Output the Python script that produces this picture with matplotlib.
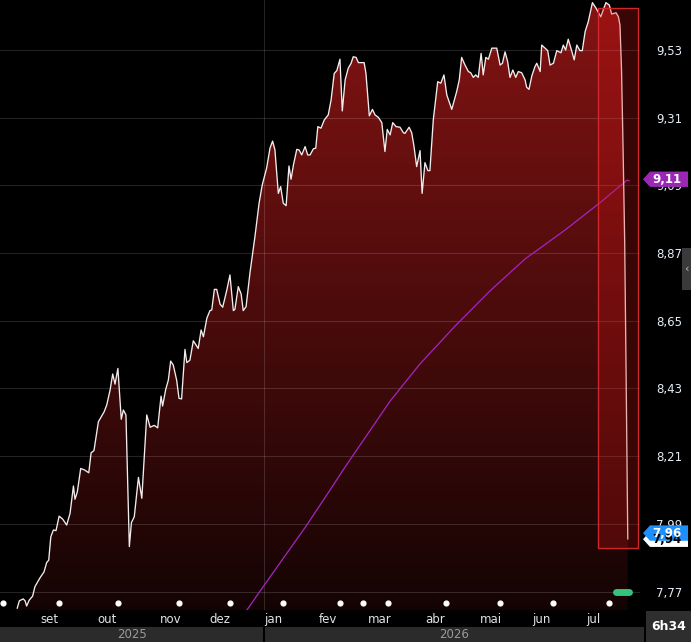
import numpy as np
import matplotlib
matplotlib.use('Agg')
import matplotlib.pyplot as plt
from matplotlib.patches import Polygon, Rectangle
from matplotlib.colors import LinearSegmentedColormap
import matplotlib.transforms as mtransforms

# ---------------- data ----------------
sessions = [0.1, 0.9, 2.4, 3.1, 3.7, 4.7, 6.0, 6.9, 8.8, 10.4, 11.4, 12.2, 13.0, 14.0, 15.0,
            16.2, 17.6, 19.1, 20.4, 21.7, 22.3, 23.2, 24.5, 26.0, 27.6, 28.5, 29.6, 31.3,
            33.5, 34.5, 35.8, 36.8, 37.7, 38.8, 40.1, 40.9, 41.9, 43.2, 44.0, 45.1, 46.7,
            48.0, 49.9, 51.2, 52.8, 54.1, 55.4, 56.0, 57.2, 58.2, 59.1, 60.1, 61.4, 62.3,
            63.3, 64.6, 65.3, 66.5, 67.8, 69.7, 70.8, 71.7, 73.0, 74.2, 74.9, 75.9, 76.8,
            78.1, 79.1, 80.7, 81.9, 83.2, 83.8, 85.1, 86.2, 87.0, 88.1, 89.6, 91.5, 93.1,
            94.3, 96.0, 97.3, 98.3, 99.2, 100.5, 101.4, 102.4, 103.5, 104.6, 105.4, 106.3,
            107.6, 108.5, 109.5, 110.8, 111.8, 112.7, 114.0, 114.9, 115.7, 116.9, 118.2,
            119.7, 120.8, 122.0, 123.0, 124.2, 125.1, 126.2, 127.4, 128.5, 129.3, 130.4,
            131.3, 133.5, 134.2, 135.5, 136.7, 137.7, 139.0, 140.3, 141.5, 142.4, 143.5,
            144.5, 145.8, 147.3, 148.6, 149.2, 150.8, 151.8, 152.7, 153.7, 155.0, 155.8,
            156.9, 158.0, 158.8, 160.1, 161.8, 163.0, 164.2, 165.3, 167.2, 169.1, 170.1,
            171.0, 172.3, 173.6, 174.5, 175.5, 176.4, 177.4, 178.5, 179.3, 180.3, 181.3,
            182.6, 184.5, 185.8, 186.7, 187.7, 188.7, 189.6, 190.7, 191.8, 192.8, 194.1,
            195.4, 196.0, 196.9, 198.0, 199.2, 199.9, 201.2, 201.8, 204.1, 205.0, 206.3,
            207.6, 209.2, 210.1, 211.0, 212.0, 213.3, 214.3, 215.3, 216.5, 217.4, 218.5,
            219.7, 221.3, 222.7, 224.5, 226.5, 227.8, 228.7, 230.4, 231.3, 231.9, 232.5,
            233.1, 233.7, 234.2, 234.9]
prices = [7.716, 7.740, 7.746, 7.740, 7.723, 7.742, 7.755, 7.786, 7.814, 7.834, 7.864, 7.872,
          7.948, 7.970, 7.968, 8.015, 8.005, 7.986, 8.024, 8.113, 8.070, 8.094, 8.170, 8.165,
          8.156, 8.221, 8.228, 8.322, 8.354, 8.376, 8.425, 8.477, 8.444, 8.495, 8.330, 8.360,
          8.344, 7.916, 7.994, 8.013, 8.141, 8.073, 8.344, 8.304, 8.310, 8.302, 8.405, 8.373,
          8.427, 8.457, 8.519, 8.506, 8.457, 8.398, 8.396, 8.557, 8.514, 8.522, 8.585, 8.560,
          8.620, 8.598, 8.658, 8.683, 8.685, 8.752, 8.752, 8.704, 8.694, 8.750, 8.799, 8.683,
          8.687, 8.761, 8.737, 8.683, 8.696, 8.806, 8.923, 9.032, 9.091, 9.146, 9.211, 9.234,
          9.205, 9.064, 9.086, 9.032, 9.024, 9.153, 9.110, 9.156, 9.207, 9.205, 9.189, 9.216,
          9.189, 9.189, 9.209, 9.211, 9.281, 9.276, 9.303, 9.319, 9.368, 9.454, 9.463, 9.500,
          9.332, 9.433, 9.471, 9.487, 9.508, 9.506, 9.489, 9.489, 9.454, 9.316, 9.337, 9.319,
          9.311, 9.294, 9.200, 9.272, 9.254, 9.294, 9.281, 9.279, 9.261, 9.259, 9.279, 9.261,
          9.216, 9.151, 9.203, 9.064, 9.164, 9.138, 9.138, 9.303, 9.427, 9.422, 9.449, 9.384,
          9.337, 9.395, 9.433, 9.506, 9.481, 9.460, 9.456, 9.441, 9.449, 9.441, 9.519, 9.449,
          9.506, 9.500, 9.536, 9.536, 9.481, 9.487, 9.524, 9.492, 9.441, 9.465, 9.441, 9.460,
          9.456, 9.433, 9.409, 9.402, 9.446, 9.476, 9.487, 9.460, 9.546, 9.528, 9.481, 9.487,
          9.528, 9.521, 9.546, 9.530, 9.565, 9.528, 9.498, 9.546, 9.528, 9.528, 9.590, 9.622,
          9.684, 9.666, 9.638, 9.684, 9.676, 9.647, 9.651, 9.638, 9.611, 9.465, 9.205, 8.913,
          8.523, 7.941]

avg_sessions = [85.8, 94.6, 101.9, 111.2, 120.4, 126.2, 133.8, 143.5, 155.0, 168.5, 181.9,
                195.4, 210.8, 225.0, 234.6, 235.4]
avg_values = [7.678, 7.785, 7.872, 7.983, 8.100, 8.175, 8.269, 8.389, 8.510, 8.633, 8.747,
              8.851, 8.945, 9.039, 9.107, 9.105]

month_labels = ['set', 'out', 'nov', 'dez', 'jan', 'fev', 'mar', 'abr', 'mai', 'jun', 'jul']
month_starts = [9, 31, 55, 74, 95, 116, 135, 157, 178, 198, 219]
year_labels = ['2025', '2026']
year_start_index = [0, 4]          # index into month_starts where each year begins

yticks = [7.77, 7.99, 8.21, 8.43, 8.65, 8.87, 9.09, 9.31, 9.53]
event_sessions = [-5.4, 16.2, 38.8, 62.3, 81.9, 102.3, 124.2, 133.1, 142.7, 165.0, 185.8, 206.2, 227.7]

highlight_x = (223.5, 238.8)
highlight_y = (7.912, 9.667)
green_marker_x = (230.3, 235.5)
green_marker_y = 7.767

avg_last = 9.11
last_quote = 7.96
last_close = 7.94
timer_label = '6h34'

x_range = (-6.54, 239.6)
y_range = (7.710, 9.6925)

fmt = lambda v: f'{v:.2f}'.replace('.', ',')

# ---------------- figure ----------------
W, H = 691, 642
fig = plt.figure(figsize=(W / 100, H / 100), dpi=100, facecolor='black')
ax = fig.add_axes([0, 32 / H, 640 / W, 610 / H])
ax.set_facecolor('black')
ax.set_xlim(*x_range)
ax.set_ylim(*y_range)
for s in ax.spines.values():
    s.set_visible(False)

# gradient area under price
verts = list(zip(sessions, prices)) + [(sessions[-1], y_range[0]), (sessions[0], y_range[0])]
poly = Polygon(verts, closed=True, facecolor='none', edgecolor='none')
ax.add_patch(poly)
cmap = LinearSegmentedColormap.from_list('g', [(0.08, 0.015, 0.015), (0.52, 0.075, 0.075)])
grad = np.linspace(0, 1, 256)[:, None]
im = ax.imshow(grad, extent=[x_range[0], x_range[1], y_range[0], y_range[1]], origin='lower',
               aspect='auto', cmap=cmap, zorder=1, interpolation='bilinear')
im.set_clip_path(poly)

# grid
for v in yticks:
    ax.axhline(v, color=(1, 1, 1, 0.14), lw=0.8, zorder=2)
ax.axvline(month_starts[4], color=(1, 1, 1, 0.14), lw=0.8, zorder=2)

# average line
ax.plot(avg_sessions, avg_values, color='#a524c4', lw=0.9, zorder=3)

# price line
ax.plot(sessions, prices, color='#f4ecec', lw=0.95, zorder=4, solid_joinstyle='round')

# highlight rectangle
ax.add_patch(Rectangle((highlight_x[0], highlight_y[0]), highlight_x[1] - highlight_x[0],
                       highlight_y[1] - highlight_y[0], facecolor=(0.85, 0.08, 0.08, 0.27),
                       edgecolor='#d0272a', lw=1.0, zorder=5))

# green marker
ax.plot(green_marker_x, [green_marker_y] * 2, color='#35c27a', lw=5, solid_capstyle='round', zorder=6)

# event dots
tr_ev = mtransforms.blended_transform_factory(ax.transData, ax.transAxes)
ax.scatter(event_sessions, [0.0115] * len(event_sessions), s=20, color='white', transform=tr_ev,
           zorder=7, clip_on=False, linewidths=0)

# axes ticks
ax.yaxis.tick_right()
ax.set_yticks(yticks)
ax.set_yticklabels([fmt(v) for v in yticks])
ax.tick_params(axis='y', length=0, pad=11.5, labelsize=8.5, labelcolor='#e4ecf6')
ax.set_xticks(month_starts)
ax.set_xticklabels(month_labels)
ax.tick_params(axis='x', length=0, pad=2.2, labelsize=8.5, labelcolor='#e2e2e2')
for lbl in ax.get_xticklabels():
    lbl.set_horizontalalignment('left')

# ---------------- decoration overlay ----------------
deco = fig.add_axes([0, 0, 1, 1])
deco.set_xlim(0, W)
deco.set_ylim(H, 0)
deco.axis('off')
deco.patch.set_visible(False)

tr_x = mtransforms.blended_transform_factory(ax.transData, deco.transData)
jan = month_starts[year_start_index[1]]
band_end = x_range[1] + 1.6
spans = [(x_range[0], jan - 0.35), (jan + 0.35, band_end)]
for (a, b), lab in zip(spans, year_labels):
    deco.add_patch(Rectangle((a, 627), b - a, 15, facecolor='#2b2b2b', edgecolor='none', transform=tr_x))
    deco.text((a + b) / 2, 634.5, lab, transform=tr_x, ha='center', va='center',
              color='#9a9a9a', fontsize=8.5)

# timer box
deco.add_patch(Rectangle((646, 611), 45, 31, facecolor='#2e2e2e', edgecolor='none'))
deco.text(668.5, 627, timer_label, ha='center', va='center', color='white', fontsize=9, fontweight='bold')

# right-edge tab
deco.add_patch(Rectangle((682, 248), 9, 42, facecolor='#3a3a3a', edgecolor='none'))
deco.text(686.5, 269, '‹', ha='center', va='center', color='#bbbbbb', fontsize=8)

# value tags
tr_tag = mtransforms.blended_transform_factory(deco.transData, ax.transData)
h = 0.025


def tag(v, label, fc, tc):
    pts = [(643, v), (650, v + h), (688, v + h), (688, v - h), (650, v - h)]
    deco.add_patch(Polygon(pts, closed=True, facecolor=fc, edgecolor='none', transform=tr_tag))
    deco.text(667, v, label, transform=tr_tag, ha='center', va='center', color=tc,
              fontsize=8.5, fontweight='bold')


tag(last_close, fmt(last_close), 'white', 'black')
tag(last_quote, fmt(last_quote), '#1e8ffb', 'white')
tag(avg_last, fmt(avg_last), '#9a28b4', 'white')

fig.savefig('out.png', dpi=100, facecolor='black')
